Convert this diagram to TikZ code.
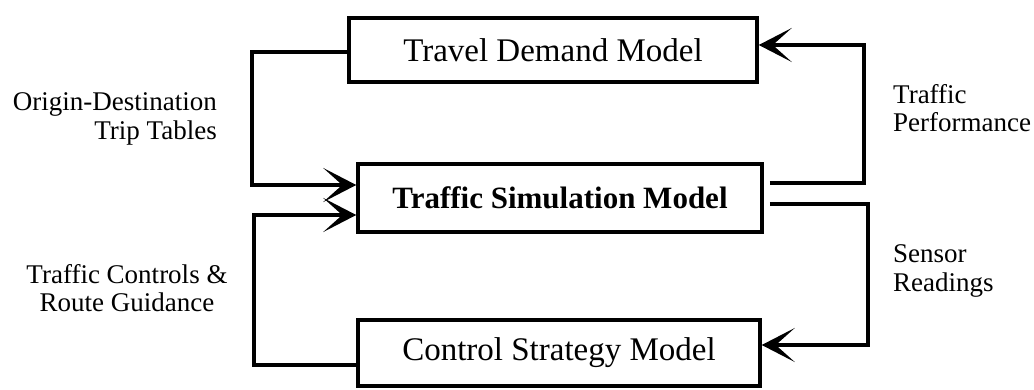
\documentclass[tikz,border=0pt]{standalone}
\usepackage{fontspec}
\setmainfont{Liberation Serif}
\usetikzlibrary{arrows.meta}
\begin{document}
\begin{tikzpicture}[x=1pt,y=-1pt,
  modelbox/.style={draw, line width=3.5pt, inner sep=0pt, minimum height=#1, font=\fontsize{33}{36}\selectfont},
  flow/.style={line width=3.5pt, -{Stealth[length=33pt,width=34pt,inset=19pt]}},
  lbl/.style={font=\fontsize{27}{28.5}\selectfont, inner sep=0pt}]
\useasboundingbox (0,0) rectangle (1034,390);
\node[modelbox=64pt, minimum width=408pt] (tdm) at (553,50) {Travel Demand Model};
\node[modelbox=68pt, minimum width=404pt, font=\fontsize{31}{34}\selectfont\bfseries] (tsm) at (560,198) {Traffic Simulation Model};
\node[modelbox=66pt, minimum width=402pt] (csm) at (559,353) {Control Strategy Model};
\coordinate (l1) at (252,52);
\coordinate (l2) at (254,365);
\coordinate (r1) at (864,183);
\coordinate (r2) at (868,204);
\draw[flow] ([yshift=-2pt]tdm.west) -- (l1) |- ([yshift=13pt]tsm.west);
\draw[flow] ([yshift=-12pt]csm.west) -- (l2) |- ([yshift=-17pt]tsm.west);
\draw[flow, shorten <=6pt] ([yshift=15pt]tsm.east) -- (r1) |- ([yshift=5pt]tdm.east);
\draw[flow, shorten <=6pt] ([yshift=-6pt]tsm.east) -- (r2) |- ([yshift=8pt]csm.east);
\node[lbl, align=right, anchor=east] (od) at (217,119) {Origin-Destination\\Trip Tables};
\node[lbl, align=center] (tc) at (127,288) {Traffic Controls \&\\Route Guidance};
\node[lbl, align=left, anchor=west] (tp) at (893,108) {Traffic\\Performance};
\node[lbl, align=left, anchor=west] (sr) at (893,271) {Sensor\\Readings};
\end{tikzpicture}
\end{document}
